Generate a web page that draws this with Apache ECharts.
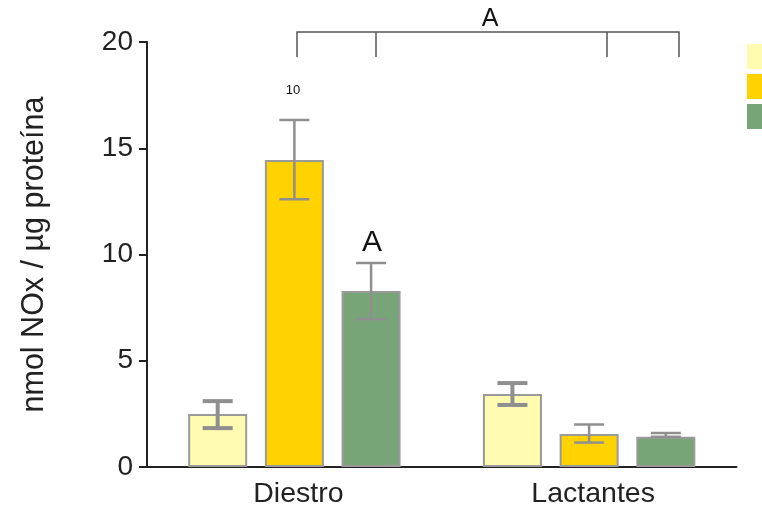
<!DOCTYPE html>
<html>
<head>
<meta charset="utf-8">
<script src="https://cdn.jsdelivr.net/npm/echarts@6/dist/echarts.min.js"></script>
<style>
  html, body { margin: 0; padding: 0; background: #fff; }
  #main { width: 762px; height: 513px; }
</style>
</head>
<body>
<div id="main"></div>
<script>
// data
const categories = ['Diestro', 'Lactantes'];
const seriesNames = ['Control', 'LPS', 'LPS + L-NAME'];
const seriesColors = ['#fffbb0', '#ffd200', '#78a577'];
const meanValues = [
    [2.5, 3.43],
    [14.45, 1.55],
    [8.28, 1.42]
];
const errUpper = [
    [3.1, 3.95],
    [16.33, 2.0],
    [9.6, 1.6]
];
const errLower = [
    [1.83, 2.92],
    [12.6, 1.15],
    [6.96, 1.42]
];
const errWidths = [4, 2.5, 2.5];
const yTicks = {min: 0, max: 20, interval: 5};

const BAR_W = 59;
const BAR_GAP = 0.3;
const FONT = '"Liberation Sans", Arial, Helvetica, sans-serif';

function errorSeries(k){
    let data = [];
    for (let i = 0; i < categories.length; i++){
        data.push([i, errUpper[k][i], errLower[k][i]]);
    }
    let offset = (k - 1) * BAR_W * (1 + BAR_GAP);
    return {
        type: 'custom',
        name: seriesNames[k] + ' err',
        z: 5,
        silent: true,
        data: data,
        renderItem: function(params, api){
            let hi = api.coord([api.value(0), api.value(1)]);
            let lo = api.coord([api.value(0), api.value(2)]);
            let x = hi[0] + offset;
            let half = 15;
            let style = {stroke: '#8f8f8f', lineWidth: errWidths[k], fill: null};
            return {
                type: 'group',
                children: [
                    {type: 'line', shape: {x1: x, y1: hi[1], x2: x, y2: lo[1]}, style: style},
                    {type: 'line', shape: {x1: x - half, y1: hi[1], x2: x + half, y2: hi[1]}, style: style},
                    {type: 'line', shape: {x1: x - half, y1: lo[1], x2: x + half, y2: lo[1]}, style: style}
                ]
            };
        }
    };
}

let series = [];
for (let k = 0; k < seriesNames.length; k++){
    series.push({
        type: 'bar',
        name: seriesNames[k],
        data: meanValues[k],
        barWidth: BAR_W,
        barGap: (BAR_GAP * 100) + '%',
        itemStyle: {color: seriesColors[k], borderColor: '#9a9a9a', borderWidth: 2}
    });
}
for (let k = 0; k < seriesNames.length; k++){
    series.push(errorSeries(k));
}

let bracketStyle = {stroke: '#555', lineWidth: 1.5, fill: null};

let option = {
    animation: false,
    textStyle: {fontFamily: FONT},
    grid: {left: 147, right: 25.5, top: 42, bottom: 46},
    legend: {
        orient: 'vertical',
        left: 747,
        top: 44,
        padding: 0,
        itemWidth: 30,
        itemHeight: 25,
        itemGap: 5,
        icon: 'rect',
        itemStyle: {borderWidth: 0},
        data: seriesNames,
        textStyle: {fontSize: 12, color: '#222'}
    },
    xAxis: {
        type: 'category',
        data: categories,
        axisLine: {lineStyle: {color: '#222', width: 2}},
        axisTick: {show: false},
        axisLabel: {fontSize: 28.5, color: '#222', margin: 13, padding: [0, 0, 0, 8], fontFamily: FONT}
    },
    yAxis: {
        type: 'value',
        min: yTicks.min,
        max: yTicks.max,
        interval: yTicks.interval,
        name: 'nmol NOx / µg proteína',
        nameLocation: 'middle',
        nameGap: 97,
        nameTextStyle: {fontSize: 30.5, color: '#222', fontFamily: FONT},
        axisLine: {show: true, lineStyle: {color: '#222', width: 2}},
        axisTick: {show: true, length: 8, lineStyle: {color: '#222', width: 2}},
        axisLabel: {fontSize: 28, color: '#222', margin: 14, fontFamily: FONT},
        splitLine: {show: false}
    },
    graphic: [
        {type: 'polyline', shape: {points: [[297, 57], [297, 32], [679, 32], [679, 57]]}, style: bracketStyle},
        {type: 'line', shape: {x1: 376, y1: 32, x2: 376, y2: 57}, style: bracketStyle},
        {type: 'line', shape: {x1: 607, y1: 32, x2: 607, y2: 57}, style: bracketStyle},
        {type: 'text', x: 490, y: 19, style: {text: 'A', font: '25px ' + FONT, fill: '#111', align: 'center', verticalAlign: 'middle'}},
        {type: 'text', x: 293, y: 90, style: {text: '10', font: '13px ' + FONT, fill: '#111', align: 'center', verticalAlign: 'middle'}},
        {type: 'text', x: 372, y: 243, style: {text: 'A', font: '30px ' + FONT, fill: '#111', align: 'center', verticalAlign: 'middle'}}
    ],
    series: series
};

var chart = echarts.init(document.getElementById('main'));
chart.setOption(option);
</script>
</body>
</html>
